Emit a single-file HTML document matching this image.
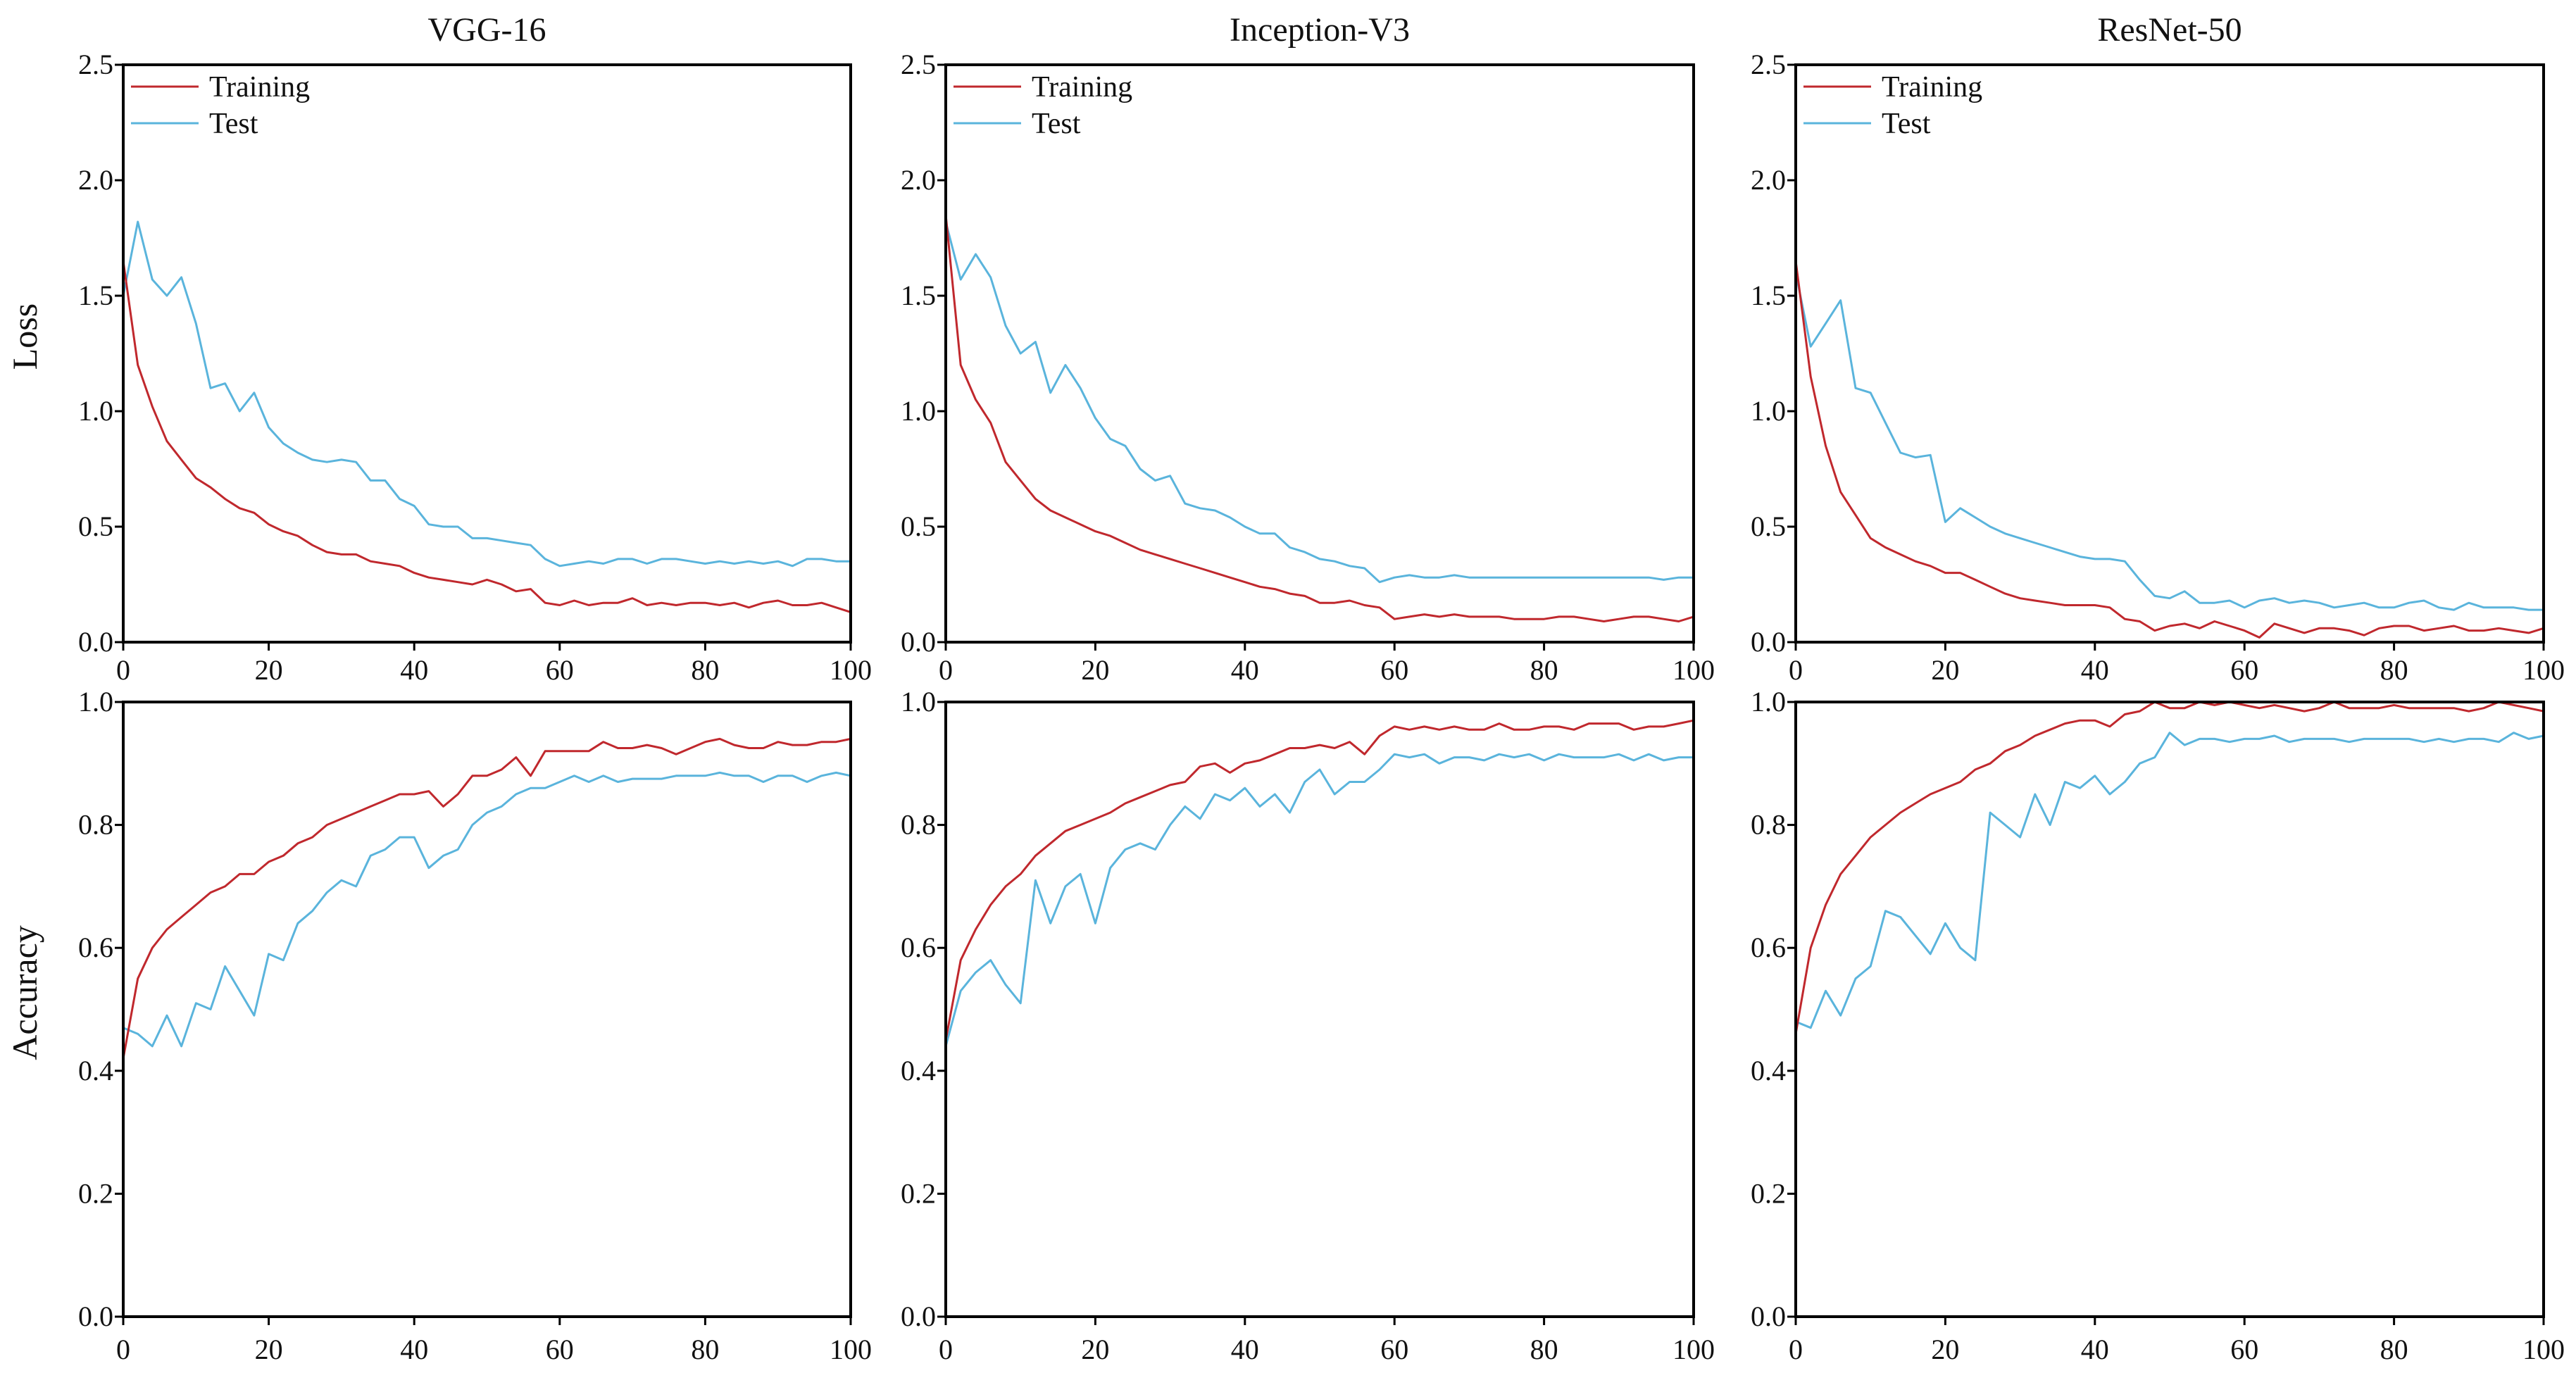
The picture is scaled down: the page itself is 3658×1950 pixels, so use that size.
<!DOCTYPE html>
<html><head><meta charset="utf-8">
<style>
html,body{margin:0;padding:0;background:#fff;}
svg{display:block;font-family:"Liberation Serif",serif;}
</style></head>
<body>
<svg id="fig" width="3658" height="1950" viewBox="0 0 3658 1950" xmlns="http://www.w3.org/2000/svg"></svg>
<script>
const epochs = [0,2,4,6,8,10,12,14,16,18,20,22,24,26,28,30,32,34,36,38,40,42,44,46,48,50,52,54,56,58,60,62,64,66,68,70,72,74,76,78,80,82,84,86,88,90,92,94,96,98,100];
const xTicks = [0,20,40,60,80,100];
const lossTicks = ["0.0","0.5","1.0","1.5","2.0","2.5"];
const accTicks = ["0.0","0.2","0.4","0.6","0.8","1.0"];
const modelNames = ["VGG-16","Inception-V3","ResNet-50"];

const vggLossTrain = [1.65,1.2,1.02,0.87,0.79,0.71,0.67,0.62,0.58,0.56,0.51,0.48,0.46,0.42,0.39,0.38,0.38,0.35,0.34,0.33,0.3,0.28,0.27,0.26,0.25,0.27,0.25,0.22,0.23,0.17,0.16,0.18,0.16,0.17,0.17,0.19,0.16,0.17,0.16,0.17,0.17,0.16,0.17,0.15,0.17,0.18,0.16,0.16,0.17,0.15,0.13];
const vggLossTest = [1.5,1.82,1.57,1.5,1.58,1.38,1.1,1.12,1.0,1.08,0.93,0.86,0.82,0.79,0.78,0.79,0.78,0.7,0.7,0.62,0.59,0.51,0.5,0.5,0.45,0.45,0.44,0.43,0.42,0.36,0.33,0.34,0.35,0.34,0.36,0.36,0.34,0.36,0.36,0.35,0.34,0.35,0.34,0.35,0.34,0.35,0.33,0.36,0.36,0.35,0.35];
const vggAccTrain = [0.42,0.55,0.6,0.63,0.65,0.67,0.69,0.7,0.72,0.72,0.74,0.75,0.77,0.78,0.8,0.81,0.82,0.83,0.84,0.85,0.85,0.855,0.83,0.85,0.88,0.88,0.89,0.91,0.88,0.92,0.92,0.92,0.92,0.935,0.925,0.925,0.93,0.925,0.915,0.925,0.935,0.94,0.93,0.925,0.925,0.935,0.93,0.93,0.935,0.935,0.94];
const vggAccTest = [0.47,0.46,0.44,0.49,0.44,0.51,0.5,0.57,0.53,0.49,0.59,0.58,0.64,0.66,0.69,0.71,0.7,0.75,0.76,0.78,0.78,0.73,0.75,0.76,0.8,0.82,0.83,0.85,0.86,0.86,0.87,0.88,0.87,0.88,0.87,0.875,0.875,0.875,0.88,0.88,0.88,0.885,0.88,0.88,0.87,0.88,0.88,0.87,0.88,0.885,0.88];

const incLossTrain = [1.85,1.2,1.05,0.95,0.78,0.7,0.62,0.57,0.54,0.51,0.48,0.46,0.43,0.4,0.38,0.36,0.34,0.32,0.3,0.28,0.26,0.24,0.23,0.21,0.2,0.17,0.17,0.18,0.16,0.15,0.1,0.11,0.12,0.11,0.12,0.11,0.11,0.11,0.1,0.1,0.1,0.11,0.11,0.1,0.09,0.1,0.11,0.11,0.1,0.09,0.11];
const incLossTest = [1.82,1.57,1.68,1.58,1.37,1.25,1.3,1.08,1.2,1.1,0.97,0.88,0.85,0.75,0.7,0.72,0.6,0.58,0.57,0.54,0.5,0.47,0.47,0.41,0.39,0.36,0.35,0.33,0.32,0.26,0.28,0.29,0.28,0.28,0.29,0.28,0.28,0.28,0.28,0.28,0.28,0.28,0.28,0.28,0.28,0.28,0.28,0.28,0.27,0.28,0.28];
const incAccTrain = [0.45,0.58,0.63,0.67,0.7,0.72,0.75,0.77,0.79,0.8,0.81,0.82,0.835,0.845,0.855,0.865,0.87,0.895,0.9,0.885,0.9,0.905,0.915,0.925,0.925,0.93,0.925,0.935,0.915,0.945,0.96,0.955,0.96,0.955,0.96,0.955,0.955,0.965,0.955,0.955,0.96,0.96,0.955,0.965,0.965,0.965,0.955,0.96,0.96,0.965,0.97];
const incAccTest = [0.44,0.53,0.56,0.58,0.54,0.51,0.71,0.64,0.7,0.72,0.64,0.73,0.76,0.77,0.76,0.8,0.83,0.81,0.85,0.84,0.86,0.83,0.85,0.82,0.87,0.89,0.85,0.87,0.87,0.89,0.915,0.91,0.915,0.9,0.91,0.91,0.905,0.915,0.91,0.915,0.905,0.915,0.91,0.91,0.91,0.915,0.905,0.915,0.905,0.91,0.91];

const resLossTrain = [1.65,1.15,0.85,0.65,0.55,0.45,0.41,0.38,0.35,0.33,0.3,0.3,0.27,0.24,0.21,0.19,0.18,0.17,0.16,0.16,0.16,0.15,0.1,0.09,0.05,0.07,0.08,0.06,0.09,0.07,0.05,0.02,0.08,0.06,0.04,0.06,0.06,0.05,0.03,0.06,0.07,0.07,0.05,0.06,0.07,0.05,0.05,0.06,0.05,0.04,0.06];
const resLossTest = [1.6,1.28,1.38,1.48,1.1,1.08,0.95,0.82,0.8,0.81,0.52,0.58,0.54,0.5,0.47,0.45,0.43,0.41,0.39,0.37,0.36,0.36,0.35,0.27,0.2,0.19,0.22,0.17,0.17,0.18,0.15,0.18,0.19,0.17,0.18,0.17,0.15,0.16,0.17,0.15,0.15,0.17,0.18,0.15,0.14,0.17,0.15,0.15,0.15,0.14,0.14];
const resAccTrain = [0.46,0.6,0.67,0.72,0.75,0.78,0.8,0.82,0.835,0.85,0.86,0.87,0.89,0.9,0.92,0.93,0.945,0.955,0.965,0.97,0.97,0.96,0.98,0.985,1.0,0.99,0.99,1.0,0.995,1.0,0.995,0.99,0.995,0.99,0.985,0.99,1.0,0.99,0.99,0.99,0.995,0.99,0.99,0.99,0.99,0.985,0.99,1.0,0.995,0.99,0.985];
const resAccTest = [0.48,0.47,0.53,0.49,0.55,0.57,0.66,0.65,0.62,0.59,0.64,0.6,0.58,0.82,0.8,0.78,0.85,0.8,0.87,0.86,0.88,0.85,0.87,0.9,0.91,0.95,0.93,0.94,0.94,0.935,0.94,0.94,0.945,0.935,0.94,0.94,0.94,0.935,0.94,0.94,0.94,0.94,0.935,0.94,0.935,0.94,0.94,0.935,0.95,0.94,0.945];

const NS = "http://www.w3.org/2000/svg";
const svg = document.getElementById("fig");
function mk(tag, attrs, parent){
  const e = document.createElementNS(NS, tag);
  for (const k in attrs) e.setAttribute(k, attrs[k]);
  (parent||svg).appendChild(e);
  return e;
}
const cols = [{l:175,r:1208},{l:1343,r:2405},{l:2550,r:3612}];
const rows = [{t:92,b:912,max:2.5,ticks:lossTicks,tickLabelY:965},{t:997,b:1870,max:1.0,ticks:accTicks,tickLabelY:1930}];
const RED = "#c0282d", BLUE = "#5ab4dc";
const series = [
  [[vggLossTrain,vggLossTest],[vggAccTrain,vggAccTest]],
  [[incLossTrain,incLossTest],[incAccTrain,incAccTest]],
  [[resLossTrain,resLossTest],[resAccTrain,resAccTest]]
];

cols.forEach((c, ci) => {
  const title = mk("text",{x:(c.l+c.r)/2,y:58,"font-size":48,"text-anchor":"middle",fill:"#111"});
  
  
  title.textContent = modelNames[ci];
  rows.forEach((r, ri) => {
    const g = mk("g",{});
    
    
    const xs = v => c.l + (v/100)*(c.r-c.l);
    const ys = v => r.b - (v/r.max)*(r.b-r.t);
    // series
    const [tr, te] = series[ci][ri];
    [[te,BLUE,'test-line'],[tr,RED,'training-line']].forEach(([arr,col,nm]) => {
      const d = arr.map((v,i)=>(i?"L":"M")+xs(epochs[i]).toFixed(1)+" "+ys(v).toFixed(1)).join(" ");
      const p = mk("path",{d:d,fill:"none",stroke:col,"stroke-width":3,"stroke-linejoin":"round"},g);
      
      
    });
    // frame
    const fr = mk("rect",{x:c.l,y:r.t,width:c.r-c.l,height:r.b-r.t,fill:"none",stroke:"#000","stroke-width":4},g);
    
    
    // x ticks
    xTicks.forEach(t => {
      mk("line",{x1:xs(t),x2:xs(t),y1:r.b,y2:r.b+12,stroke:"#000","stroke-width":3},g);
      const tl = mk("text",{x:xs(t),y:r.tickLabelY,"font-size":40,"text-anchor":"middle",fill:"#111"},g);
      
      
      tl.textContent = t;
    });
    // y ticks
    r.ticks.forEach((lab, i) => {
      const v = i * r.max / (r.ticks.length-1);
      mk("line",{x1:c.l-12,x2:c.l,y1:ys(v),y2:ys(v),stroke:"#000","stroke-width":3},g);
      const yl = mk("text",{x:c.l-14,y:ys(v)+13,"font-size":40,"text-anchor":"end",fill:"#111"},g);
      
      
      yl.textContent = lab;
    });
    if (ri === 0) {
      const lg = mk("g",{},g);
      
      
      [["Training",RED,123],["Test",BLUE,175]].forEach(([lab,col,y]) => {
        mk("line",{x1:c.l+11,x2:c.l+107,y1:y,y2:y,stroke:col,"stroke-width":3},lg);
        const lt = mk("text",{x:c.l+122,y:y+14,"font-size":42,fill:"#111"},lg);
        
        
        lt.textContent = lab;
      });
    }
  });
});
const yl1 = mk("text",{x:0,y:0,"font-size":50,"text-anchor":"middle",fill:"#111",transform:"translate(52,478) rotate(-90)"});


yl1.textContent = "Loss";
const yl2 = mk("text",{x:0,y:0,"font-size":50,"text-anchor":"middle",fill:"#111",transform:"translate(52,1410) rotate(-90)"});


yl2.textContent = "Accuracy";
</script>
</body></html>
